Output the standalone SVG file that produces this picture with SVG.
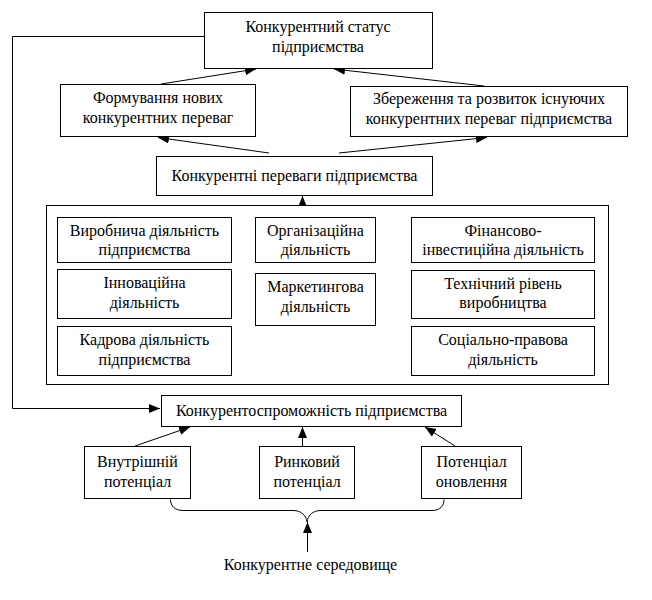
<svg xmlns="http://www.w3.org/2000/svg" width="652" height="600" viewBox="0 0 652 600">
<style>
  rect { fill: #fff; stroke: #000; stroke-width: 1; }
  text { font-family: "Liberation Serif", "Times New Roman", serif; font-size: 16px; fill: #000; text-anchor: middle; }
  .c { fill: none; stroke: #000; stroke-width: 1; }
</style>
<defs>
  <marker id="ah" markerUnits="userSpaceOnUse" markerWidth="12" markerHeight="10" refX="11" refY="4.5" orient="auto">
    <path d="M0,0 L11,4.5 L0,9 z" fill="#000"/>
  </marker>
</defs>
<rect width="652" height="600" style="fill:#fff;stroke:none"/>

<g id="connectors">
  <polyline class="c" points="204.5,36.5 12.5,36.5 12.5,408.5 160,408.5" marker-end="url(#ah)"/>
  <line class="c" x1="161" y1="84" x2="256" y2="69" marker-end="url(#ah)"/>
  <line class="c" x1="484" y1="86" x2="334" y2="69" marker-end="url(#ah)"/>
  <line class="c" x1="269" y1="153" x2="158" y2="137.5" marker-end="url(#ah)"/>
  <line class="c" x1="339" y1="153" x2="487" y2="137.5" marker-end="url(#ah)"/>
  <line class="c" x1="302.5" y1="205" x2="302.5" y2="196" marker-end="url(#ah)"/>
  <line class="c" x1="135" y1="446" x2="190" y2="427" marker-end="url(#ah)"/>
  <line class="c" x1="302.5" y1="446" x2="302.5" y2="427" marker-end="url(#ah)"/>
  <line class="c" x1="455" y1="446" x2="425" y2="427" marker-end="url(#ah)"/>
  <path class="c" d="M170.5,499.5 C170.5,506 175,510.5 183,510.5 L293,510.5 C301,510.5 306,515 307,522 C308,515 313,510.5 321,510.5 L432,510.5 C440,510.5 444,506 444,499.5"/>
  <line class="c" x1="307.5" y1="552" x2="307.5" y2="522" marker-end="url(#ah)"/>
</g>

<g id="status">
  <rect x="204.5" y="12.5" width="228" height="56"/>
  <text x="318" y="32">Конкурентний статус</text>
  <text x="318" y="52">підприємства</text>
</g>
<g id="formuvannia">
  <rect x="60.5" y="84.5" width="195" height="52"/>
  <text x="158" y="103">Формування нових</text>
  <text x="158" y="123">конкурентних переваг</text>
</g>
<g id="zberezhennia">
  <rect x="350.5" y="86.5" width="277" height="50"/>
  <text x="489" y="104">Збереження та розвиток існуючих</text>
  <text x="489" y="124">конкурентних переваг підприємства</text>
</g>
<g id="perevagy">
  <rect x="156.5" y="156.5" width="276" height="39"/>
  <text x="294.5" y="181">Конкурентні переваги підприємства</text>
</g>
<g id="factors">
  <rect x="46.5" y="205.5" width="562" height="179"/>
</g>
<g id="vyrobnycha">
  <rect x="57.5" y="217.5" width="174" height="45"/>
  <text x="144.5" y="236">Виробнича діяльність</text>
  <text x="144.5" y="255">підприємства</text>
</g>
<g id="innovatsiina">
  <rect x="57.5" y="269.5" width="174" height="49"/>
  <text x="144.5" y="288">Інноваційна</text>
  <text x="144.5" y="308">діяльність</text>
</g>
<g id="kadrova">
  <rect x="57.5" y="326.5" width="174" height="49"/>
  <text x="144.5" y="345">Кадрова діяльність</text>
  <text x="144.5" y="365">підприємства</text>
</g>
<g id="orhanizatsiina">
  <rect x="255.5" y="217.5" width="120" height="45"/>
  <text x="315.5" y="236">Організаційна</text>
  <text x="315.5" y="255">діяльність</text>
</g>
<g id="marketynhova">
  <rect x="255.5" y="273.5" width="120" height="52"/>
  <text x="315.5" y="292">Маркетингова</text>
  <text x="315.5" y="312">діяльність</text>
</g>
<g id="finansovo">
  <rect x="411.5" y="217.5" width="183" height="45"/>
  <text x="503" y="236">Фінансово-</text>
  <text x="503" y="255">інвестиційна діяльність</text>
</g>
<g id="tekhnichnyi">
  <rect x="411.5" y="270.5" width="183" height="48"/>
  <text x="503" y="289">Технічний рівень</text>
  <text x="503" y="308">виробництва</text>
</g>
<g id="sotsialno">
  <rect x="411.5" y="326.5" width="183" height="49"/>
  <text x="503" y="345">Соціально-правова</text>
  <text x="503" y="365">діяльність</text>
</g>
<g id="konkurentospromozhnist">
  <rect x="161.5" y="395.5" width="300" height="31"/>
  <text x="311.5" y="416">Конкурентоспроможність підприємства</text>
</g>
<g id="vnutrishnii">
  <rect x="84.5" y="446.5" width="106" height="52"/>
  <text x="137.5" y="467">Внутрішній</text>
  <text x="137.5" y="487">потенціал</text>
</g>
<g id="rynkovyi">
  <rect x="259.5" y="446.5" width="95" height="52"/>
  <text x="307" y="467">Ринковий</text>
  <text x="307" y="487">потенціал</text>
</g>
<g id="onovlennia">
  <rect x="421.5" y="446.5" width="100" height="52"/>
  <text x="471.5" y="467">Потенціал</text>
  <text x="471.5" y="487">оновлення</text>
</g>
<g id="seredovyshche">
  <text x="310.5" y="570">Конкурентне середовище</text>
</g>
</svg>
